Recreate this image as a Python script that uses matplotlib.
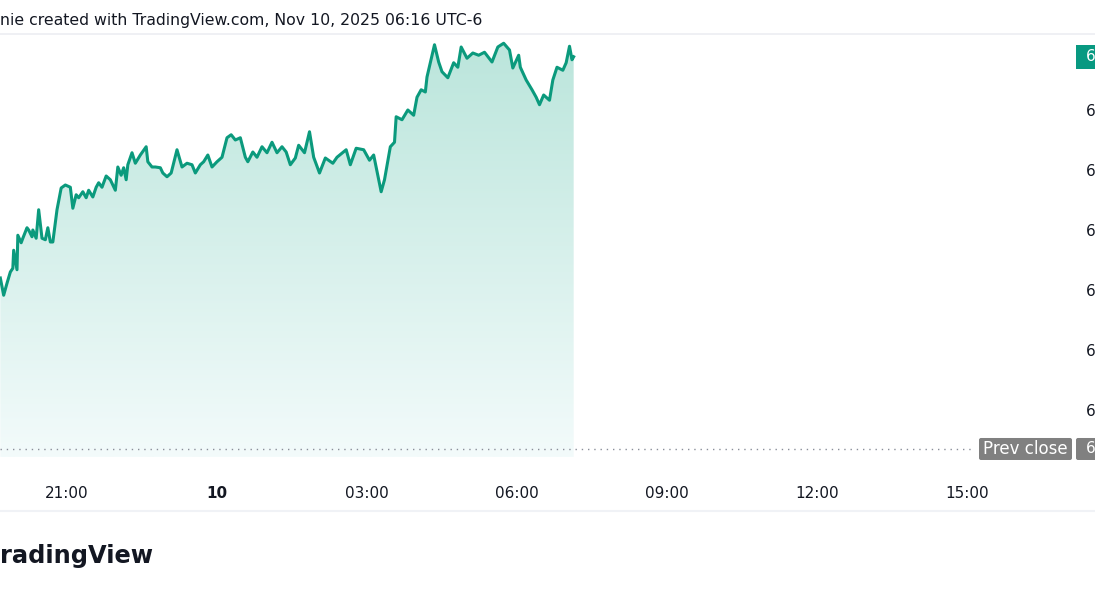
import numpy as np
import matplotlib
matplotlib.use("Agg")
import matplotlib.pyplot as plt
from matplotlib.patches import FancyBboxPatch, Rectangle
from matplotlib.transforms import IdentityTransform
from matplotlib.lines import Line2D

# data: minutes after 19:40 (Nov 9) and price
minutes = [0, 4, 8, 12, 15, 16, 20, 21, 25, 27, 32, 34, 38, 39, 43, 46, 50, 54, 57, 60,
           63, 68, 73, 78, 84, 87, 91, 94, 99, 103, 106, 111, 115, 118, 122, 127, 132, 138,
           141, 145, 148, 151, 153, 158, 162, 168, 175,
           177, 182, 186, 192, 195, 200, 205, 212, 218, 224, 230, 234, 240, 244, 249, 254,
           260, 266, 272, 277, 282, 288, 294, 297, 303, 308, 314, 320, 326, 332, 338, 343,
           348, 354,
           358, 365, 371, 376, 383, 390, 399, 404, 415, 420, 427, 436, 443, 448, 454, 457,
           461, 468, 473, 475, 482, 489, 496, 500, 505, 510, 512, 516, 521, 526, 530, 537,
           544, 549, 553, 560, 567, 574, 581, 590, 597, 604, 611, 615, 622, 624, 631, 638,
           643, 647, 652, 659, 663, 668, 675, 679, 683, 686, 688]
prices = [6764.0, 6758.25, 6762.25, 6766.0, 6767.25, 6773.25, 6766.75, 6778.25, 6775.75,
          6777.25, 6780.75, 6780.0, 6777.75, 6780.0, 6777.25, 6786.75, 6777.25, 6776.75,
          6780.75, 6776.0, 6776.0, 6786.75, 6794.0, 6795.0, 6794.25, 6787.25, 6791.75,
          6790.75, 6792.75, 6790.75, 6793.25, 6791.0, 6794.25, 6795.75, 6794.25, 6798.0,
          6796.75, 6793.25, 6801.0, 6798.25, 6800.75, 6796.75, 6801.75, 6805.75, 6802.25,
          6805.0, 6807.75,
          6802.75, 6801.0, 6801.0, 6800.75, 6799.0, 6797.75, 6799.0, 6806.75, 6801.0,
          6802.25, 6801.75, 6799.0, 6801.75, 6802.75, 6805.0, 6801.0, 6802.75, 6804.25,
          6810.75, 6811.75, 6810.0, 6810.75, 6804.25, 6802.75, 6806.0, 6804.25, 6807.75,
          6805.75, 6809.25, 6805.75, 6807.75, 6806.0, 6801.75, 6804.0,
          6808.25, 6805.75, 6812.75, 6804.25, 6799.0, 6804.0, 6802.25, 6804.25, 6806.75,
          6801.75, 6807.25, 6806.75, 6803.25, 6805.0, 6796.75, 6792.75, 6796.75, 6807.75,
          6809.25, 6817.75, 6816.75, 6820.0, 6818.25, 6824.25, 6826.75, 6826.0, 6831.0,
          6835.75, 6841.75, 6836.0, 6832.75, 6830.75, 6835.75, 6834.25, 6841.0, 6837.25,
          6839.0, 6838.25, 6839.25, 6836.0, 6841.0, 6842.25, 6840.0, 6834.0, 6838.25,
          6834.25, 6830.0, 6826.75, 6824.25, 6821.75, 6825.0, 6823.25, 6830.0, 6834.25,
          6833.25, 6835.75, 6841.25, 6836.75, 6837.75]
prev_close = 6707.0
price_ticks = [6820, 6800, 6780, 6760, 6740, 6720]
price_tick_labels = ["6", "6", "6", "6", "6", "6"]
time_ticks = [80, 260, 440, 620, 800, 980, 1160]
time_tick_labels = ["21:00", "10", "03:00", "06:00", "09:00", "12:00", "15:00"]

W, H = 1095, 600
line_col = "#0b9a7d"
text_col = "#131722"

fig = plt.figure(figsize=(W / 100, H / 100), dpi=100)
fig.patch.set_facecolor("white")

ax = fig.add_axes([0, 1 - 457 / H, 1075 / W, (457 - 35) / H])
ymin, ymax = 6704.33, 6845.0
ax.set_xlim(-0.4, 1289.6)
ax.set_ylim(ymin, ymax)
for s in ax.spines.values():
    s.set_visible(False)

# gradient area under the line
poly = ax.fill_between(minutes, prices, ymin, facecolor="none", edgecolor="none")
top = np.array([186, 229, 219]) / 255
bot = np.array([243, 251, 251]) / 255
t = np.linspace(0, 1, 256)[:, None]
grad = (top * (1 - t) + bot * t)[:, None, :]
im = ax.imshow(grad, extent=[minutes[0], minutes[-1], ymin, ymax],
               aspect="auto", origin="upper", zorder=1)
im.set_clip_path(poly.get_paths()[0], transform=ax.transData)

ax.plot(minutes, prices, color=line_col, lw=2.2, zorder=3, solid_joinstyle="round")

# previous close dotted line
ax.axhline(prev_close, xmin=0, xmax=975 / 1075, color="#8a8e99", lw=1,
           ls=(0, (1, 3.5)), zorder=2)

# axes ticks
ax.set_xticks(time_ticks)
ax.set_xticklabels(time_tick_labels)
ax.tick_params(axis="x", length=0, pad=21, labelsize=11, labelcolor=text_col)
ax.get_xticklabels()[1].set_fontweight("bold")
ax.yaxis.tick_right()
ax.set_yticks(price_ticks)
ax.set_yticklabels(price_tick_labels)
ax.tick_params(axis="y", length=0, pad=8, labelsize=11, labelcolor=text_col)

# header / separators
fig.text(0, 1 - 21 / H, "nie created with TradingView.com, Nov 10, 2025 06:16 UTC-6",
         fontsize=11.3, color=text_col, va="center", ha="left")
fig.add_artist(Line2D([0, 1], [1 - 34 / H, 1 - 34 / H], color="#eceef2", lw=1.2,
                      transform=fig.transFigure))
fig.add_artist(Line2D([0, 1], [1 - 511 / H, 1 - 511 / H], color="#f0f2f6", lw=1.5,
                      transform=fig.transFigure))
fig.text(0, 1 - 556 / H, "radingView", fontsize=17.4, fontweight="bold",
         color=text_col, va="center", ha="left")

# price labels on the scale
fig.canvas.draw()
pix = IdentityTransform()
y_last = ax.transData.transform((0, prices[-1]))[1]
y_prev = ax.transData.transform((0, prev_close))[1]

fig.add_artist(Rectangle((1076, y_last - 12), 30, 24, facecolor="#089981",
                         edgecolor="none", transform=pix))
fig.text(1086 / W, y_last / H, "6", color="white", fontsize=11, va="center", ha="left")

fig.add_artist(FancyBboxPatch((979, y_prev - 11), 93, 22,
                              boxstyle="round,pad=0,rounding_size=2",
                              facecolor="#808080", edgecolor="none", transform=pix))
fig.text(1025.5 / W, y_prev / H, "Prev close", color="white", fontsize=12,
         va="center", ha="center")
fig.add_artist(FancyBboxPatch((1076, y_prev - 11), 30, 22,
                              boxstyle="round,pad=0,rounding_size=2",
                              facecolor="#808080", edgecolor="none", transform=pix))
fig.text(1086 / W, y_prev / H, "6", color="white", fontsize=11, va="center", ha="left")

fig.savefig("out.png", dpi=100)
